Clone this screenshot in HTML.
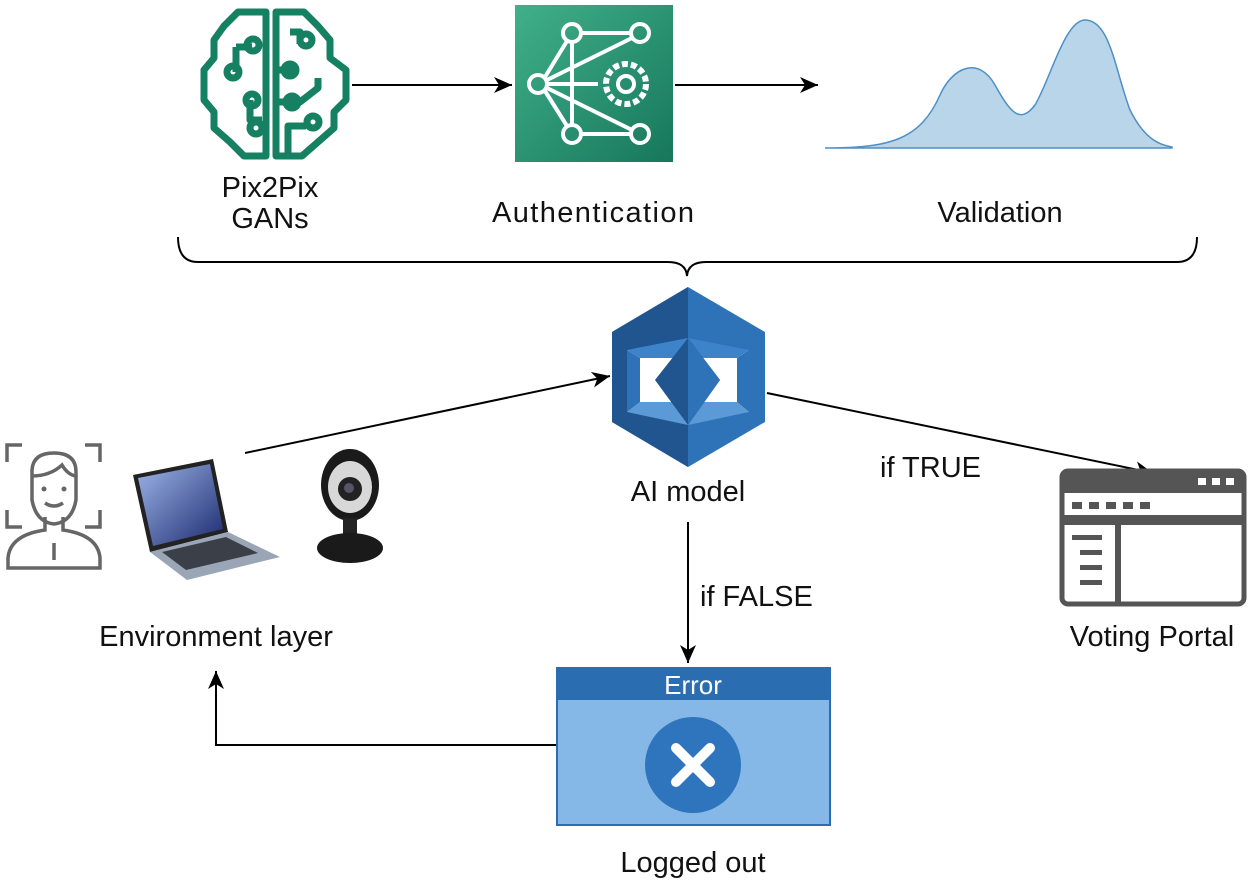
<!DOCTYPE html>
<html><head><meta charset="utf-8"><style>
body{margin:0;background:#fff}
svg text{font-family:"Liberation Sans",Arial,sans-serif;fill:#111}
</style></head><body>
<svg width="1250" height="883" viewBox="0 0 1250 883" xmlns="http://www.w3.org/2000/svg">
<defs>
<marker id="ah2" markerWidth="20" markerHeight="20" refX="18" refY="8" orient="auto" markerUnits="userSpaceOnUse"><path d="M0,0 L18,8 L0,16 L5,8z" fill="#000"/></marker>
<linearGradient id="g1" x1="0" y1="0" x2="1" y2="1"><stop offset="0" stop-color="#41b08a"/><stop offset="1" stop-color="#16775a"/></linearGradient>
<linearGradient id="lap" x1="0" y1="0" x2="1" y2="1"><stop offset="0" stop-color="#9db4e6"/><stop offset="1" stop-color="#1b2a70"/></linearGradient>
</defs>

<!-- brain -->
<g fill="none" stroke="#158062" stroke-width="7" stroke-linejoin="round">
<path d="M266,12 L238,12 L224,26 L214,40 L214,58 L204,70 L204,100 L214,112 L214,128 L230,142 L244,156 L266,156 Z"/>
<path d="M276,12 L304,12 L318,26 L330,40 L330,58 L346,70 L346,100 L334,112 L334,128 L318,142 L302,156 L276,156 Z"/>
<path d="M236,47 L236,72 M236,47 L252,47"/>
<circle cx="253" cy="45" r="6"/><circle cx="233" cy="72" r="6"/>
<path d="M250,100 L250,120 L262,120"/><circle cx="252" cy="100" r="6"/><circle cx="256" cy="128" r="6"/>
<path d="M290,32 L300,32 L300,44"/><circle cx="306" cy="40" r="6"/>
<path d="M278,70 L298,70"/><circle cx="290" cy="70" r="6"/>
<path d="M278,102 L300,102 L318,88 L318,78"/><circle cx="292" cy="102" r="6"/>
<path d="M288,156 L288,126 L306,126"/><circle cx="313" cy="122" r="6"/>
</g>

<line x1="352" y1="85" x2="512" y2="85" stroke="#000" stroke-width="2" marker-end="url(#ah2)"/>

<!-- auth -->
<rect x="515" y="5" width="158" height="157" fill="url(#g1)"/>
<g fill="none" stroke="#fff" stroke-width="4">
<circle cx="572" cy="33" r="9"/><circle cx="640" cy="33" r="9"/><circle cx="538" cy="84" r="9"/>
<circle cx="572" cy="134" r="9"/><circle cx="640" cy="134" r="9"/>
<path d="M581,33 L631,33 M547,80 L632,38 M547,88 L632,130 M581,134 L631,134 M545,77 L567,41 M545,91 L567,126 M572,42 L572,125 M547,84 L598,84"/>
<circle cx="626" cy="84" r="20" stroke-dasharray="6 3" stroke-width="6"/><circle cx="626" cy="84" r="8"/>
</g>
<line x1="675" y1="85" x2="818" y2="85" stroke="#000" stroke-width="2" marker-end="url(#ah2)"/>

<!-- validation -->
<path d="M825,148 C890,148 920,140 940,95 C952,68 978,55 995,85 C1010,112 1020,125 1035,105 C1050,80 1065,20 1085,20 C1110,20 1115,70 1130,110 C1145,140 1160,145 1172,147 L1172,148 Z" fill="#b9d5ea" stroke="#4d8fc6" stroke-width="1.5"/>

<text x="270" y="197" font-size="29" text-anchor="middle">Pix2Pix</text>
<text x="270" y="228" font-size="29" text-anchor="middle">GANs</text>
<text x="593" y="222" font-size="29" text-anchor="middle" textLength="202">Authentication</text>
<text x="1000" y="222" font-size="29" text-anchor="middle">Validation</text>

<!-- brace -->
<path d="M178,237 Q178,262 198,262 L668,262 Q686,262 687,276 Q688,262 706,262 L1177,262 Q1197,262 1197,237" fill="none" stroke="#000" stroke-width="2"/>

<!-- AI model -->
<polygon points="688,287 765,332 765,422 688,467 612,422 612,332" fill="#2e73b8"/>
<polygon points="688,287 612,332 612,422 688,467" fill="#21558f"/>
<polygon points="627,350 749,350 749,412 627,412" fill="#fff"/>
<polygon points="627,350 688,338 749,350 737,358 640,358" fill="#3d83c9"/>
<polygon points="627,412 640,402 737,402 749,412 688,425" fill="#5b9ad6"/>
<polygon points="627,350 640,358 640,402 627,412" fill="#2e73b8"/>
<polygon points="749,350 737,358 737,402 749,412" fill="#2e73b8"/>
<polygon points="688,338 720,380 688,425 655,380" fill="#21558f"/>
<polygon points="688,338 720,380 688,425" fill="#2e73b8"/>
<text x="688" y="501" font-size="29" text-anchor="middle">AI model</text>

<line x1="245" y1="453" x2="610" y2="376" stroke="#000" stroke-width="2" marker-end="url(#ah2)"/>
<line x1="767" y1="393" x2="1153" y2="473" stroke="#000" stroke-width="2" marker-end="url(#ah2)"/>
<text x="880" y="477" font-size="29">if TRUE</text>
<line x1="688" y1="522" x2="688" y2="663" stroke="#000" stroke-width="2" marker-end="url(#ah2)"/>
<text x="700" y="606" font-size="29">if FALSE</text>

<!-- error -->
<rect x="557" y="668" width="273" height="157" fill="#85b8e6" stroke="#2a6db0" stroke-width="2"/>
<rect x="557" y="668" width="273" height="32" fill="#2a6db0"/>
<text x="693" y="694" font-size="26" text-anchor="middle" style="fill:#fff">Error</text>
<circle cx="693" cy="765" r="48" fill="#2f75bd"/>
<path d="M676,748 L710,782 M710,748 L676,782" stroke="#fff" stroke-width="10" stroke-linecap="round"/>
<text x="693" y="872" font-size="29" text-anchor="middle">Logged out</text>

<polyline points="556,745 216,745 216,671" fill="none" stroke="#000" stroke-width="2" marker-end="url(#ah2)"/>
<text x="216" y="646" font-size="29" text-anchor="middle">Environment layer</text>

<!-- voting portal -->
<rect x="1062" y="471" width="182" height="133" rx="6" fill="none" stroke="#555" stroke-width="5"/>
<rect x="1062" y="471" width="182" height="22" fill="#555"/>
<rect x="1062" y="515" width="182" height="10" fill="#555"/>
<rect x="1115" y="525" width="6" height="79" fill="#555"/>
<g fill="#fff"><rect x="1198" y="478" width="8" height="7"/><rect x="1212" y="478" width="8" height="7"/><rect x="1226" y="478" width="8" height="7"/></g>
<g fill="#555"><rect x="1072" y="502" width="10" height="7"/><rect x="1089" y="502" width="10" height="7"/><rect x="1106" y="502" width="10" height="7"/><rect x="1123" y="502" width="10" height="7"/><rect x="1140" y="502" width="10" height="7"/>
<rect x="1072" y="535" width="30" height="5"/><rect x="1080" y="550" width="22" height="5"/><rect x="1080" y="565" width="22" height="5"/><rect x="1080" y="580" width="22" height="5"/></g>
<text x="1152" y="646" font-size="29" text-anchor="middle">Voting Portal</text>

<!-- person -->
<g fill="none" stroke="#666" stroke-width="3.5">
<path d="M7,462 L7,445 L22,445 M85,445 L100,445 L100,462 M7,510 L7,527 L22,527 M85,527 L100,527 L100,510"/>
<path d="M32,470 Q33,453 54,453 Q76,453 76,472 L76,500 Q72,522 54,524 Q36,522 32,500 Z"/>
<path d="M32,476 Q50,476 62,465 Q68,475 76,476"/>
<path d="M45,517 L45,530 Q10,535 8,558 L8,568 L100,568 L100,558 Q98,535 63,530 L63,517"/>
<path d="M45,503 Q54,509 63,503"/><path d="M54,543 L54,560"/>
</g>
<circle cx="44" cy="489" r="2.5" fill="#666"/><circle cx="64" cy="489" r="2.5" fill="#666"/>

<!-- laptop -->
<polygon points="133,475 213,459 228,532 150,552" fill="#222"/>
<polygon points="138,478 210,464 223,529 153,546" fill="url(#lap)"/>
<polygon points="150,552 228,532 280,557 187,580" fill="#9aa6b6"/>
<polygon points="162,552 226,537 258,553 186,570" fill="#3a3f48"/>

<!-- webcam -->
<ellipse cx="350" cy="485" rx="29" ry="36" fill="#1a1a1a"/>
<ellipse cx="350" cy="487" rx="22" ry="26" fill="#d8d8d8"/>
<circle cx="350" cy="489" r="12" fill="#222"/><circle cx="349" cy="488" r="5" fill="#556"/>
<rect x="343" y="518" width="14" height="20" fill="#222"/>
<ellipse cx="350" cy="548" rx="33" ry="15" fill="#1a1a1a"/>
</svg>
</body></html>
